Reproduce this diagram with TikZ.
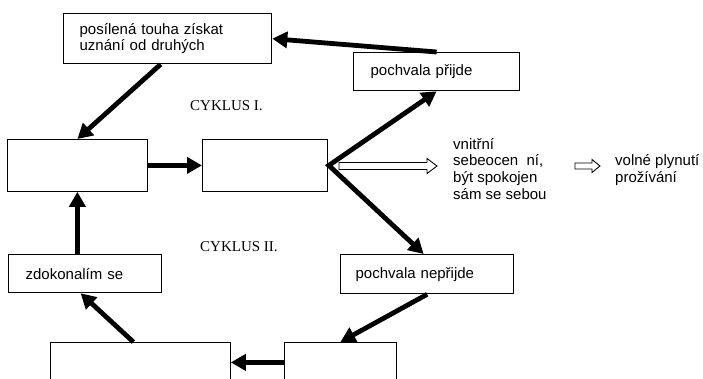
\documentclass[tikz,border=0pt]{standalone}
\usepackage{fontspec}
\setmainfont{Liberation Serif}
\newfontfamily\arialf{Liberation Sans}
\usetikzlibrary{arrows.meta}
\begin{document}
\begin{tikzpicture}[x=1pt,y=-1pt,
  tbox/.style={draw, line width=1.3pt, anchor=north west, inner ysep=0pt,
    font=\arialf\fontsize{15}{16.7}\selectfont, align=left},
  ebox/.style={draw, line width=0.8pt, anchor=north west, inner sep=0pt},
  arr/.style={line width=4.8pt, -{Triangle[length=15pt,width=16pt]}},
  hollow/.style={draw, line width=0.9pt, fill=white, line join=miter},
  plain/.style={font=\arialf\fontsize{15}{16.7}\selectfont, align=left, inner sep=0pt, anchor=north west},
  cyk/.style={font=\fontsize{15}{17}\selectfont, inner sep=0pt, anchor=base west}]
\clip (0,0) rectangle (703,378);
\fill[white] (0,0) rectangle (703,378);
% boxes
\node[tbox, minimum width=208pt, minimum height=50pt, text width=176pt, inner xsep=16pt] (A) at (63,13) {posílená touha získat\\uznání od druhých};
\node[tbox, minimum width=166pt, minimum height=38pt, text width=132pt, inner xsep=17pt] (B) at (353,52) {pochvala přijde};
\node[ebox, minimum width=140pt, minimum height=52pt] (C) at (7,139) {};
\node[ebox, minimum width=125pt, minimum height=52pt] (D) at (202,139) {};
\node[tbox, minimum width=153pt, minimum height=38pt, text width=119pt, inner xsep=17pt] (E) at (8,254) {zdokonalím se};
\node[tbox, minimum width=173pt, minimum height=39pt, text width=143pt, inner xsep=15pt] (F) at (340,254) {pochvala nepřijde};
\node[ebox, minimum width=180pt, minimum height=40pt] (G) at (50,342) {};
\node[ebox, minimum width=112pt, minimum height=40pt] (H) at (284,342) {};
% labels
\node[cyk] (c1) at (190,110) {CYKLUS I.};
\node[cyk] (c2) at (200,251) {CYKLUS II.};
\node[plain] (t1) at (453,138) {vnitřní\\sebeocen~ ní,\\být spokojen\\sám se sebou};
\node[plain] (t2) at (615,154.5) {volné plynutí\\prožívání};
% connectors
\coordinate (V) at ([xshift=1pt]D.east);
\draw[arr] (B.north) -- (A.east);
\draw[arr] ([xshift=-7pt]A.south) -- (C.north);
\draw[arr] (C.east) -- (D.west);
\draw[line width=4.8pt, line join=miter, {Triangle[length=15pt,width=16pt]}-{Triangle[length=15pt,width=16pt]}] (B.south) -- (V) -- ([xshift=-3.5pt]F.north);
\draw[arr] (C.south |- E.north) -- (C.south);
\draw[arr] (F.south) -- (H.north);
\draw[arr] (H.west) -- (G.east);
\draw[arr] ([xshift=-7pt]G.north) -- ([xshift=-4.5pt]E.south);
% hollow arrows
\draw[hollow] (339,162.5) -- (427,162.5) -- (427,158.5) -- (437,166) -- (427,173.5) -- (427,169.5) -- (339,169.5) -- cycle;
\draw[hollow] (575,163) -- (592,163) -- (592,159.5) -- (600,166) -- (592,172.5) -- (592,169) -- (575,169) -- cycle;
\end{tikzpicture}
\end{document}
